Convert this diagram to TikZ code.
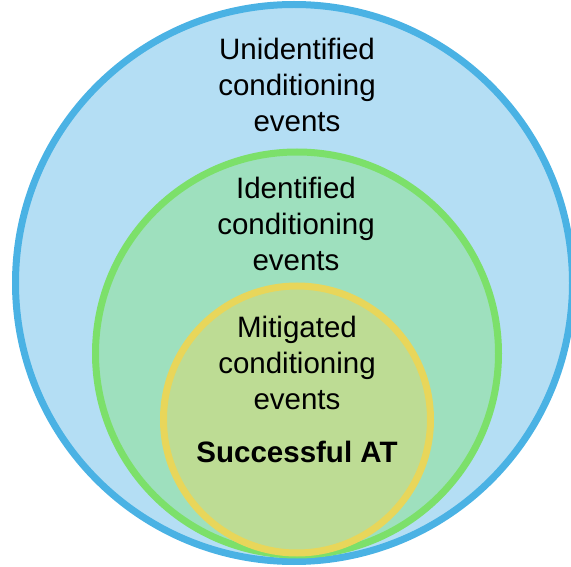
\documentclass[tikz,border=0pt]{standalone}
\usepackage{fontspec}
\setmainfont{Liberation Sans}
\definecolor{bluefill}{HTML}{B4DEF4}
\definecolor{bluedraw}{HTML}{4AB2E4}
\definecolor{greenfill}{HTML}{9EE0BE}
\definecolor{greendraw}{HTML}{7CE06A}
\definecolor{yellowfill}{HTML}{BDDC94}
\definecolor{yellowdraw}{HTML}{E8D65A}
\tikzset{
  ring/.style={line width=7pt},
  lbl/.style={align=center, inner sep=0pt, anchor=base,
    font=\fontsize{29.5}{36}\selectfont},
}
\begin{document}
\begin{tikzpicture}[x=1pt,y=1pt]
\useasboundingbox (0,0) rectangle (571,566);
\clip (0,0) rectangle (571,566);
\draw[ring, draw=bluedraw, fill=bluefill] (294,283) circle[radius=278.5];
\draw[ring, draw=greendraw, fill=greenfill] (297,212.5) circle[radius=201.5];
\draw[ring, draw=yellowdraw, fill=yellowfill] (297,146.5) circle[radius=133.5];
\node[lbl] (unid) at (297,434) {Unidentified\\conditioning\\events};
\node[lbl] (ident) at (296,295) {Identified\\conditioning\\events};
\node[lbl] (mitig) at (297,157) {Mitigated\\conditioning\\events};
\node[lbl, font=\fontsize{29.5}{36}\selectfont\bfseries] (succ) at (297,104) {Successful AT};
\end{tikzpicture}
\end{document}
